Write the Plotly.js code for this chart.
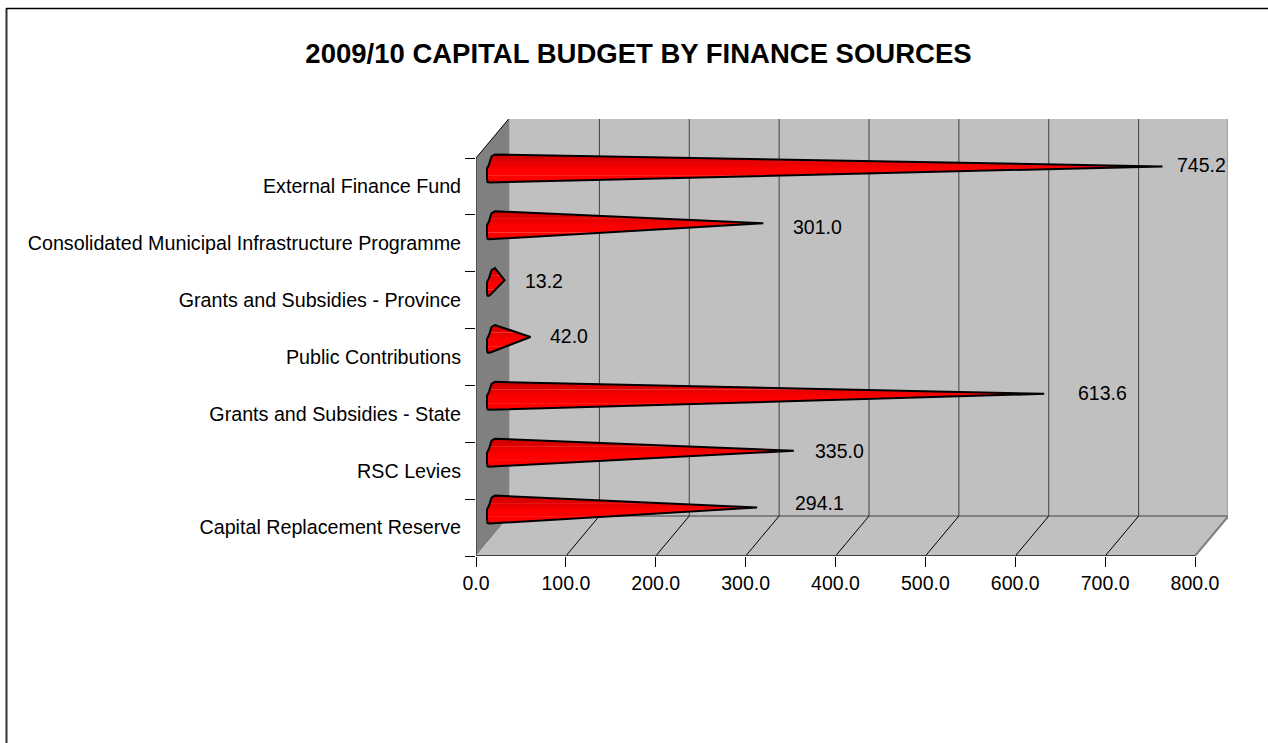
<!DOCTYPE html>
<html>
<head>
<meta charset="utf-8">
<script src="https://cdn.plot.ly/plotly-3.0.1.min.js"></script>
<style>html,body{margin:0;padding:0;background:#fff}#chart{width:1268px;height:743px}</style>
</head>
<body>
<div id="chart"></div>
<script>
// Finance sources, listed from the top of the chart to the bottom (R million)
const categories = [
  "External Finance Fund",
  "Consolidated Municipal Infrastructure Programme",
  "Grants and Subsidies - Province",
  "Public Contributions",
  "Grants and Subsidies - State",
  "RSC Levies",
  "Capital Replacement Reserve"
];
const budgetValues = [745.2, 301.0, 13.2, 42.0, 613.6, 335.0, 294.1];
const valueLabels = ["745.2", "301.0", "13.2", "42.0", "613.6", "335.0", "294.1"];
const axisTicks = [0, 100, 200, 300, 400, 500, 600, 700, 800];

// Plot box, in pixels: the front plane of the box starts at its lower left corner
const W = 1268, H = 743;
const box = {left: 476, right: 1228, top: 119, bottom: 556};
const pxPerUnit = 719 / 800;          // horizontal pixels per budget unit
const pxPerBand = 398 / 7;            // vertical pixels per category band
const depthX = 33.5 / pxPerUnit;      // oblique depth of the box, x axis units
const depthY = 40 / pxPerBand;        // oblique depth of the box, band units
const n = categories.length;
const maxTick = axisTicks[axisTicks.length - 1];
const FONT = "Liberation Sans, Arial, sans-serif";

const dxPx = p => p / pxPerUnit;
const dyPx = p => p / pxPerBand;
const paperX = p => (p - box.left) / (box.right - box.left);
const paperY = p => (box.bottom - p) / (box.bottom - box.top);

// Outline of the cone's flattened base, as [px right of the axis, px above the band centre]
const baseProfile = [[13, 4], [11.5, 4.5], [11, 8], [11, 18], [13, 22], [15.5, 30], [19, 32]];

const traces = categories.map((name, i) => {
  const centre = n - i - 0.5;
  const xs = baseProfile.map(p => dxPx(p[0]));
  const ys = baseProfile.map(p => centre + dyPx(p[1]));
  xs.push(budgetValues[i] + depthX / 2);
  ys.push(centre + depthY / 2);
  xs.push(xs[0]);
  ys.push(ys[0]);
  return {
    type: "scatter", mode: "lines", name, x: xs, y: ys,
    fill: "toself",
    fillgradient: {
      type: "vertical",
      colorscale: [
        [0, "#e80000"], [0.12, "#ff0000"], [0.22, "#ff0000"], [0.24, "#ff3c3c"], [0.26, "#ff0000"],
        [0.45, "#ff0000"], [0.71, "#e40000"], [0.73, "#f03838"], [0.75, "#e00000"], [1, "#c80000"]
      ]
    },
    line: {color: "#000000", width: 2, shape: "linear"},
    hoverinfo: "skip",
    showlegend: false
  };
});

const line = (x0, y0, x1, y1, color, width) => ({
  type: "line", xref: "x", yref: "y", layer: "below", x0, y0, x1, y1,
  line: {color, width}
});
const poly = (pts, fill) => ({
  type: "path", xref: "x", yref: "y", layer: "below",
  path: "M" + pts.map(p => p[0] + "," + p[1]).join("L") + "Z",
  fillcolor: fill, line: {width: 0}
});

const shapes = [
  // Back wall, side wall and floor of the box
  poly([[depthX, depthY], [maxTick + depthX, depthY], [maxTick + depthX, n + depthY], [depthX, n + depthY]], "#c0c0c0"),
  poly([[0, 0], [depthX, depthY], [depthX, n + depthY], [0, n]], "#808080"),
  poly([[0, 0], [maxTick, 0], [maxTick + depthX, depthY], [depthX, depthY]], "#c0c0c0"),
  line(depthX, n + depthY, maxTick + depthX, n + depthY, "#808080", 2),
  line(maxTick + depthX, depthY, maxTick + depthX, n + depthY, "#808080", 2),
  line(depthX, depthY, maxTick + depthX, depthY, "#808080", 2),
  line(maxTick, 0, maxTick + depthX, depthY, "#808080", 2)
];
// Gridlines: up the back wall and across the floor
axisTicks.slice(1, -1).forEach(v => {
  shapes.push(line(v + depthX, depthY, v + depthX, n + depthY, "#404040", 1));
  shapes.push(line(v, 0, v + depthX, depthY, "#000000", 1));
});
// Axis lines and the top edge of the side wall
shapes.push(line(0, 0, maxTick, 0, "#404040", 2));
shapes.push(line(0, 0, 0, n, "#404040", 1.5));
shapes.push(line(0, n, depthX, n + depthY, "#000000", 1));
// Outer frame of the chart: only the left and top edges lie inside the window
shapes.push({type: "line", xref: "paper", yref: "paper", x0: paperX(6.5), x1: paperX(6.5), y0: paperY(743), y1: paperY(8.5), line: {color: "#333333", width: 2}});
shapes.push({type: "line", xref: "paper", yref: "paper", x0: paperX(6), x1: paperX(1268), y0: paperY(8.5), y1: paperY(8.5), line: {color: "#000000", width: 1.5}});

// Value labels sit beside each tip, each with its own hand-placed nudge
const labelNudgeX = [12, 28, 18, 17, 32, 19, 36];
const labelNudgeY = [1, -4, -1, 1, 1, 0, 5];
const annotations = budgetValues.map((v, i) => ({
  x: v + depthX / 2,
  y: n - i - 0.5 + depthY / 2,
  text: valueLabels[i],
  showarrow: false,
  xanchor: "left",
  yanchor: "middle",
  xshift: labelNudgeX[i],
  yshift: labelNudgeY[i],
  font: {family: FONT, size: 19.5, color: "#000"}
}));

const layout = {
  width: W, height: H,
  paper_bgcolor: "#ffffff",
  plot_bgcolor: "rgba(0,0,0,0)",
  showlegend: false,
  margin: {l: box.left, r: W - box.right, t: box.top, b: H - box.bottom, pad: 0},
  title: {
    text: "<b>2009/10 CAPITAL BUDGET BY FINANCE SOURCES</b>",
    x: 638.5 / W, xanchor: "center", xref: "container",
    y: 1 - 53 / H, yanchor: "middle", yref: "container",
    font: {family: FONT, size: 27.5, color: "#000"}
  },
  xaxis: {
    range: [0, (box.right - box.left) / pxPerUnit],
    tickmode: "array", tickvals: axisTicks, tickformat: ".1f",
    ticks: "outside", ticklen: 10, tickwidth: 1, tickcolor: "#000",
    showgrid: false, zeroline: false, showline: false,
    tickfont: {family: FONT, size: 19.5, color: "#000"},
    fixedrange: true
  },
  yaxis: {
    range: [0, (box.bottom - box.top) / pxPerBand],
    tickmode: "array",
    tickvals: categories.map((c, i) => n - i - 0.5),
    ticktext: categories,
    ticks: "outside", ticklen: 10, tickcolor: "rgba(0,0,0,0)",
    minor: {
      tickmode: "array",
      tickvals: Array.from({length: n + 1}, (_, i) => i),
      ticks: "outside", ticklen: 10, tickwidth: 1, tickcolor: "#000", showgrid: false
    },
    showgrid: false, zeroline: false, showline: false,
    tickfont: {family: FONT, size: 19.7, color: "#000"},
    fixedrange: true
  },
  shapes, annotations
};

Plotly.newPlot("chart", traces, layout, {displayModeBar: false, staticPlot: true});
</script>
</body>
</html>
